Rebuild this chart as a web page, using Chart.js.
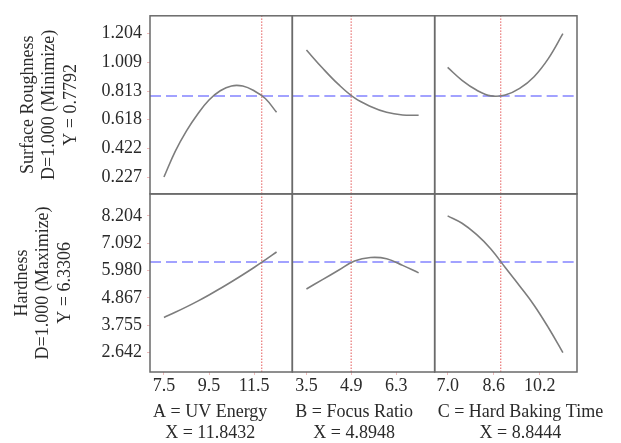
<!DOCTYPE html>
<html><head><meta charset="utf-8">
<script src="https://cdn.jsdelivr.net/npm/chart.js@4/dist/chart.umd.min.js"></script>
<style>html,body{margin:0;padding:0;background:#fff;}#wrap{width:621px;height:443px;position:relative;}</style>
</head><body><div id="wrap"><canvas id="c" width="621" height="443"></canvas></div>
<script>
// ---- factors (columns) ----
const factorNames = ['A = UV Energy', 'B = Focus Ratio', 'C = Hard Baking Time'];
const factorSettings = [11.8432, 4.8948, 8.8444];
const xTickValsA = [7.5, 9.5, 11.5];
const xTickLabelsA = ['7.5', '9.5', '11.5'];
const xTickValsB = [3.5, 4.9, 6.3];
const xTickLabelsB = ['3.5', '4.9', '6.3'];
const xTickValsC = [7.0, 8.6, 10.2];
const xTickLabelsC = ['7.0', '8.6', '10.2'];

// ---- responses (rows) ----
const responseNames = ['Surface Roughness', 'Hardness'];
const responseGoals = ['D=1.000 (Minimize)', 'D=1.000 (Maximize)'];
const responsePredicted = [0.7792, 6.3306];
const yTickValsRough = [1.204, 1.009, 0.813, 0.618, 0.422, 0.227];
const yTickLabelsRough = ['1.204', '1.009', '0.813', '0.618', '0.422', '0.227'];
const yTickValsHard = [8.204, 7.092, 5.980, 4.867, 3.755, 2.642];
const yTickLabelsHard = ['8.204', '7.092', '5.980', '4.867', '3.755', '2.642'];

// ---- curves ----
const uvX = [7.5, 8.0, 8.5, 9.0, 9.5, 10.0, 10.5, 11.0, 11.5, 12.0, 12.5];
const roughVsUv = [0.227, 0.402, 0.542, 0.657, 0.752, 0.815, 0.848, 0.847, 0.815, 0.762, 0.668];
const hardVsUv = [4.07, 4.28, 4.50, 4.735, 4.985, 5.25, 5.525, 5.81, 6.105, 6.415, 6.735];

const focusX = [3.5, 4.0, 4.5, 5.0, 5.5, 6.0, 6.5, 7.0];
const roughVsFocus = [1.093, 0.970, 0.858, 0.766, 0.708, 0.668, 0.650, 0.648];
const hardVsFocus = [5.23, 5.61, 5.99, 6.37, 6.51, 6.46, 6.19, 5.885];

const bakeX = [7.0, 7.5, 8.0, 8.5, 9.0, 9.5, 10.0, 10.5, 11.0];
const roughVsBake = [0.974, 0.886, 0.820, 0.780, 0.786, 0.831, 0.911, 1.036, 1.204];
const hardVsBake = [8.204, 7.906, 7.45, 6.86, 6.10, 5.35, 4.57, 3.65, 2.642];

// ---- build ----
const FONT = {family: '"Liberation Serif", "Times New Roman", serif', size: 18};
const TXT = '#2a2a2a';
const xIds = ['x1', 'x2', 'x3'];
const yIds = ['y1', 'y2'];
const xRanges = [[6.88, 13.2], [3.06, 7.5], [6.55, 11.49]];
const yRanges = [[0.112, 1.326], [1.85, 9.10]];
const xTickVals = [xTickValsA, xTickValsB, xTickValsC];
const xTickLabels = [xTickLabelsA, xTickLabelsB, xTickLabelsC];
const yTickVals = [yTickValsRough, yTickValsHard];
const yTickLabels = [yTickLabelsRough, yTickLabelsHard];
const curveX = [uvX, focusX, bakeX];
const curveY = [[roughVsUv, roughVsFocus, roughVsBake], [hardVsUv, hardVsFocus, hardVsBake]];

const pts = (xs, ys) => xs.map((x, i) => ({x: x, y: ys[i]}));
const datasets = [];
for (let r = 0; r < 2; r++) {
  for (let c = 0; c < 3; c++) {
    datasets.push({
      data: pts(curveX[c], curveY[r][c]), xAxisID: xIds[c], yAxisID: yIds[r],
      borderColor: '#7d7d7d', borderWidth: 1.6, tension: 0.4, pointRadius: 0, showLine: true
    });
    // predicted-response reference (blue dashed)
    datasets.push({
      data: [{x: xRanges[c][0], y: responsePredicted[r]}, {x: xRanges[c][1], y: responsePredicted[r]}],
      xAxisID: xIds[c], yAxisID: yIds[r],
      borderColor: 'rgba(110,110,255,0.85)', borderWidth: 1.6, borderDash: [11, 5], pointRadius: 0, showLine: true
    });
    // current factor setting (red dotted)
    datasets.push({
      data: [{x: factorSettings[c], y: yRanges[r][0]}, {x: factorSettings[c], y: yRanges[r][1]}],
      xAxisID: xIds[c], yAxisID: yIds[r],
      borderColor: 'rgba(225,70,70,0.9)', borderWidth: 1, borderDash: [1.5, 1.5], pointRadius: 0, showLine: true
    });
  }
}

const scales = {};
xIds.forEach((id, c) => {
  scales[id] = {
    type: 'linear', position: 'bottom', stack: 'cols', stackWeight: 1,
    min: xRanges[c][0], max: xRanges[c][1],
    afterBuildTicks: (ax) => { ax.ticks = xTickVals[c].map(v => ({value: v})); },
    afterFit: (ax) => { ax.height = 71; },
    ticks: {autoSkip: false, maxRotation: 0, padding: 0, color: TXT, font: FONT,
      callback: (v, i) => xTickLabels[c][i]},
    grid: {drawOnChartArea: false, drawTicks: true, tickLength: 3, color: 'rgba(225,120,120,0.5)'},
    border: {display: false}
  };
});
yIds.forEach((id, r) => {
  scales[id] = {
    type: 'linear', position: 'left', stack: 'rows', stackWeight: 1, weight: r === 0 ? 1 : 0,
    min: yRanges[r][0], max: yRanges[r][1],
    afterBuildTicks: (ax) => { ax.ticks = yTickVals[r].map(v => ({value: v})); },
    afterFit: (ax) => { ax.width = 150; },
    ticks: {autoSkip: false, padding: 5, color: TXT, font: FONT,
      callback: (v, i) => yTickLabels[r][i]},
    grid: {drawOnChartArea: false, drawTicks: true, tickLength: 3, color: 'rgba(225,120,120,0.5)'},
    border: {display: false},
    title: {display: true, color: TXT, font: {family: FONT.family, size: 18, lineHeight: 1.2},
      padding: {top: r === 0 ? 17 : 11, bottom: 0},
      text: [responseNames[r], responseGoals[r], 'Y = ' + responsePredicted[r].toFixed(4)]}
  };
});

const framePlugin = {
  id: 'frame',
  afterDatasetsDraw(chart) {
    const ctx = chart.ctx;
    ctx.save();
    ctx.strokeStyle = '#6a6a6a';
    ctx.lineWidth = 1.5;
    xIds.forEach(xi => yIds.forEach(yi => {
      const xs = chart.scales[xi], ys = chart.scales[yi];
      ctx.strokeRect(xs.left, ys.top, xs.right - xs.left, ys.bottom - ys.top);
    }));
    ctx.restore();
  },
  afterDraw(chart) {
    const ctx = chart.ctx;
    ctx.save();
    ctx.font = FONT.size + 'px ' + FONT.family;
    ctx.fillStyle = TXT;
    ctx.textAlign = 'center';
    ctx.textBaseline = 'middle';
    xIds.forEach((xi, c) => {
      const xs = chart.scales[xi];
      const lines = [factorNames[c], 'X = ' + factorSettings[c].toFixed(4)];
      const w = Math.max(...lines.map(l => ctx.measureText(l).width));
      const cx = xs.left + 3 + w / 2;
      ctx.fillText(lines[0], cx, xs.top + 40);
      ctx.fillText(lines[1], cx, xs.top + 61);
    });
    ctx.restore();
  }
};

new Chart(document.getElementById('c'), {
  type: 'scatter',
  data: {datasets: datasets},
  options: {
    responsive: false, animation: false, events: [],
    layout: {padding: {top: 8, right: 44, left: 0, bottom: 0}},
    plugins: {legend: {display: false}, tooltip: {enabled: false}, title: {display: false}},
    scales: scales
  },
  plugins: [framePlugin]
});
</script></body></html>
